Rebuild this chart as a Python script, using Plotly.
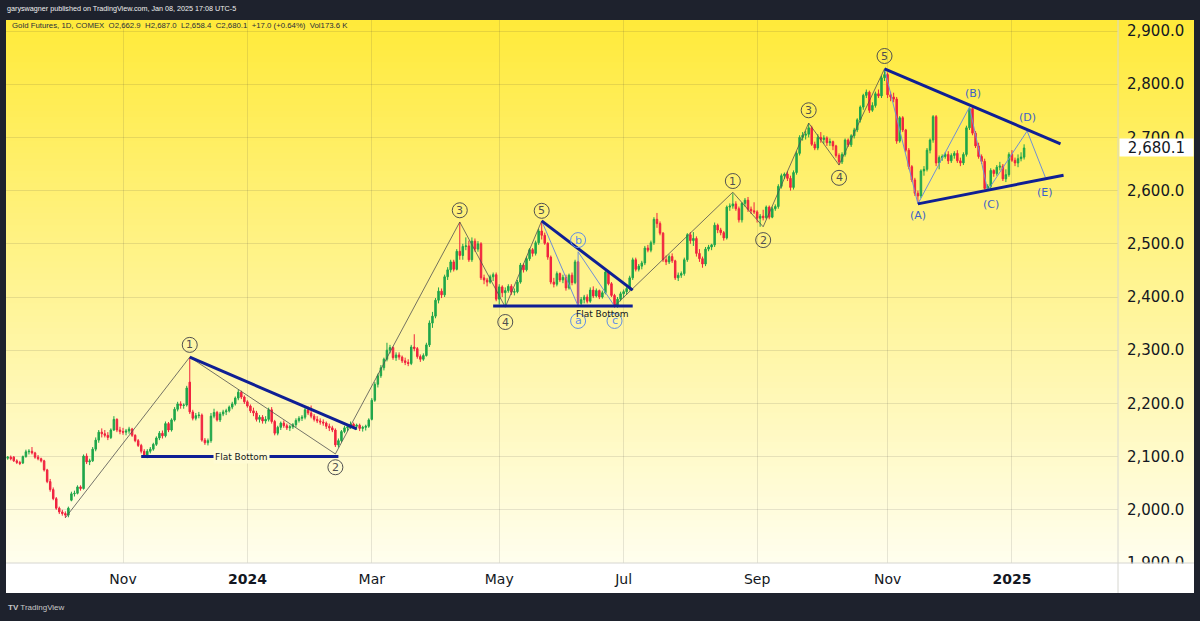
import plotly.graph_objects as go
import pandas as pd

# ---------------- data (Gold Futures, COMEX, daily) ----------------
opens = [
    # Sep 2023
    2103, 2098, 2096, 2097, 2099, 2099, 2092, 2089, 2088, 2100, 2109, 2110, 2107, 2099, 2096, 2092, 2075, 2053, 2038,
    # Oct 2023
    2021, 2003, 1996, 1993, 1990, 2018, 2030, 2031, 2043, 2040, 2101, 2090, 2092, 2114, 2131, 2146, 2143, 2140, 2136, 2150, 2170, 2150,
    # Nov 2023
    2147, 2146, 2148, 2152, 2140, 2130, 2121, 2110, 2100, 2110, 2114, 2123, 2135, 2144, 2139, 2162, 2150, 2169, 2189, 2199, 2196,
    # Dec 2023
    2197, 2240, 2184, 2172, 2177, 2178, 2131, 2126, 2130, 2176, 2183, 2169, 2180, 2184, 2186, 2193, 2199, 2210, 2221, 2212,
    # Jan 2024
    2203, 2195, 2186, 2182, 2170, 2174, 2167, 2170, 2188, 2166, 2144, 2155, 2163, 2158, 2154, 2156, 2160, 2168, 2172, 2174, 2188,
    # Feb 2024
    2182, 2176, 2170, 2167, 2165, 2163, 2157, 2154, 2150, 2122, 2130, 2147, 2154, 2156, 2161, 2157, 2159, 2153, 2155, 2157,
    # Mar 2024
    2170, 2206, 2236, 2252, 2267, 2283, 2300, 2305, 2286, 2291, 2287, 2280, 2277, 2275, 2306, 2303, 2288, 2283, 2290, 2310,
    # Apr 2024
    2351, 2364, 2394, 2411, 2404, 2438, 2451, 2466, 2452, 2486, 2478, 2495, 2496, 2470, 2505, 2490, 2500, 2436, 2432, 2428, 2438, 2442,
    # May 2024
    2396, 2419, 2408, 2412, 2420, 2409, 2410, 2428, 2460, 2451, 2472, 2489, 2482, 2502, 2524, 2516, 2501, 2475, 2428, 2424, 2444, 2432,
    # Jun 2024
    2437, 2417, 2441, 2427, 2466, 2388, 2395, 2400, 2392, 2413, 2402, 2412, 2400, 2408, 2447, 2425, 2403, 2384, 2396,
    # Jul 2024
    2406, 2410, 2416, 2436, 2470, 2452, 2458, 2464, 2492, 2488, 2502, 2546, 2538, 2520, 2470, 2466, 2476, 2468, 2436, 2441, 2444, 2470,
    # Aug 2024
    2517, 2506, 2510, 2482, 2472, 2462, 2490, 2494, 2498, 2535, 2526, 2521, 2511, 2569, 2571, 2575, 2566, 2545, 2576, 2582, 2565, 2562,
    # Sep 2024
    2560, 2548, 2552, 2549, 2569, 2550, 2566, 2570, 2608, 2628, 2631, 2623, 2606, 2634, 2670, 2700, 2704, 2706, 2718, 2687,
    # Oct 2024
    2680, 2700, 2696, 2699, 2690, 2692, 2684, 2666, 2654, 2668, 2695, 2686, 2703, 2714, 2733, 2757, 2779, 2785, 2751, 2760, 2782, 2778, 2812,
    # Nov 2024
    2818, 2780, 2776, 2772, 2693, 2737, 2714, 2676, 2645, 2620, 2595, 2590, 2637, 2640, 2676, 2695, 2739, 2652, 2662, 2664,
    # Dec 2024
    2668, 2656, 2666, 2670, 2656, 2652, 2668, 2718, 2754, 2708, 2684, 2664, 2655, 2604, 2608, 2638, 2632, 2644, 2646, 2622, 2630,
    # Jan 2025
    2668, 2657, 2652, 2660, 2662.9,
]
highs = [
    2106, 2101, 2100, 2101, 2102, 2101, 2095, 2092, 2102, 2113, 2114, 2118, 2109, 2103, 2098, 2094, 2077, 2058, 2042,
    2024, 2006, 2000, 1997, 2006, 2034, 2036, 2046, 2046, 2104, 2106, 2096, 2118, 2136, 2150, 2153, 2150, 2146, 2153, 2176, 2172, 2156,
    2154, 2152, 2156, 2154, 2142, 2133, 2124, 2114, 2114, 2118, 2126, 2138, 2148, 2149, 2166, 2165, 2172, 2193, 2203, 2204, 2200,
    2233, 2287, 2188, 2182, 2184, 2181, 2135, 2134, 2182, 2190, 2186, 2184, 2188, 2190, 2196, 2203, 2213, 2226, 2224, 2215,
    2206, 2198, 2192, 2186, 2178, 2178, 2176, 2192, 2193, 2169, 2158, 2166, 2168, 2162, 2160, 2163, 2172, 2176, 2178, 2192, 2194,
    2196, 2180, 2176, 2172, 2170, 2166, 2162, 2158, 2153, 2134, 2150, 2158, 2160, 2166, 2164, 2162, 2162, 2158, 2160, 2172,
    2210, 2240, 2256, 2272, 2286, 2314, 2310, 2307, 2296, 2296, 2290, 2286, 2283, 2310, 2330, 2306, 2292, 2294, 2314, 2356,
    2372, 2398, 2418, 2416, 2442, 2456, 2470, 2470, 2490, 2541, 2500, 2512, 2506, 2512, 2510, 2505, 2503, 2442, 2436, 2442, 2446, 2446,
    2424, 2422, 2418, 2424, 2424, 2416, 2432, 2464, 2463, 2476, 2492, 2492, 2506, 2528, 2543, 2521, 2503, 2478, 2436, 2448, 2446, 2442,
    2442, 2444, 2446, 2470, 2468, 2400, 2404, 2405, 2418, 2420, 2416, 2414, 2412, 2452, 2450, 2428, 2406, 2400, 2410,
    2414, 2420, 2440, 2474, 2474, 2462, 2468, 2496, 2498, 2506, 2550, 2558, 2542, 2522, 2478, 2480, 2482, 2470, 2446, 2448, 2474, 2520,
    2522, 2522, 2514, 2490, 2476, 2494, 2498, 2500, 2540, 2538, 2530, 2524, 2572, 2576, 2595, 2580, 2570, 2578, 2586, 2588, 2570, 2578,
    2563, 2556, 2564, 2572, 2572, 2570, 2574, 2612, 2632, 2634, 2636, 2628, 2638, 2674, 2704, 2710, 2712, 2727, 2722, 2692,
    2706, 2710, 2704, 2702, 2698, 2694, 2686, 2670, 2672, 2698, 2698, 2706, 2718, 2736, 2760, 2782, 2790, 2788, 2766, 2786, 2790, 2816, 2829,
    2822, 2786, 2784, 2776, 2740, 2740, 2716, 2680, 2648, 2624, 2600, 2640, 2646, 2680, 2698, 2742, 2742, 2666, 2668, 2672,
    2674, 2670, 2674, 2676, 2662, 2672, 2722, 2757, 2756, 2712, 2690, 2668, 2660, 2612, 2642, 2640, 2648, 2654, 2650, 2640, 2672,
    2676, 2662, 2668, 2672, 2687.0,
]
lows = [
    2095, 2093, 2092, 2094, 2093, 2090, 2086, 2084, 2086, 2098, 2104, 2104, 2096, 2093, 2089, 2072, 2050, 2034, 2018,
    2000, 1992, 1989, 1985, 1986, 2016, 2025, 2029, 2036, 2038, 2086, 2084, 2090, 2110, 2126, 2136, 2136, 2131, 2133, 2148, 2146, 2142,
    2141, 2140, 2143, 2137, 2127, 2118, 2106, 2099, 2097, 2106, 2111, 2120, 2131, 2134, 2136, 2146, 2147, 2166, 2185, 2190, 2190,
    2194, 2180, 2168, 2168, 2172, 2128, 2122, 2121, 2126, 2172, 2166, 2165, 2176, 2178, 2183, 2189, 2196, 2206, 2208, 2199,
    2192, 2182, 2176, 2166, 2164, 2162, 2162, 2166, 2162, 2140, 2140, 2150, 2154, 2150, 2148, 2152, 2155, 2164, 2167, 2170, 2178,
    2172, 2166, 2163, 2160, 2158, 2152, 2148, 2146, 2118, 2117, 2127, 2144, 2148, 2152, 2152, 2150, 2148, 2147, 2149, 2154,
    2168, 2203, 2230, 2248, 2262, 2279, 2294, 2282, 2280, 2282, 2276, 2272, 2270, 2272, 2298, 2284, 2278, 2280, 2288, 2306,
    2342, 2360, 2388, 2398, 2400, 2432, 2446, 2448, 2450, 2470, 2470, 2488, 2466, 2466, 2485, 2485, 2432, 2424, 2420, 2425, 2430, 2392,
    2386, 2400, 2381, 2408, 2404, 2403, 2407, 2425, 2446, 2448, 2468, 2476, 2478, 2498, 2508, 2498, 2470, 2424, 2418, 2420, 2428, 2426,
    2412, 2414, 2422, 2424, 2381, 2383, 2388, 2388, 2389, 2398, 2399, 2396, 2397, 2405, 2422, 2400, 2380, 2380, 2392,
    2398, 2404, 2412, 2432, 2448, 2448, 2452, 2460, 2484, 2484, 2498, 2530, 2516, 2466, 2460, 2462, 2464, 2432, 2430, 2436, 2440, 2466,
    2500, 2496, 2476, 2466, 2455, 2458, 2486, 2488, 2494, 2520, 2516, 2506, 2508, 2562, 2566, 2562, 2540, 2540, 2570, 2560, 2556, 2556,
    2540, 2532, 2544, 2546, 2546, 2548, 2562, 2566, 2604, 2622, 2618, 2600, 2602, 2630, 2666, 2694, 2696, 2700, 2684, 2676,
    2676, 2690, 2688, 2684, 2684, 2676, 2662, 2648, 2650, 2664, 2682, 2682, 2698, 2710, 2728, 2752, 2774, 2746, 2748, 2756, 2774, 2774, 2806,
    2774, 2768, 2766, 2688, 2690, 2710, 2672, 2640, 2616, 2590, 2575, 2586, 2628, 2636, 2670, 2690, 2646, 2640, 2656, 2660,
    2650, 2652, 2660, 2652, 2646, 2648, 2664, 2714, 2704, 2680, 2660, 2650, 2602, 2600, 2604, 2626, 2628, 2638, 2618, 2616, 2626,
    2654, 2646, 2644, 2655, 2658.4,
]
closes = [
    2098, 2096, 2098, 2099, 2096, 2092, 2089, 2087, 2100, 2109, 2110, 2107, 2099, 2096, 2092, 2075, 2053, 2038, 2021,
    2003, 1996, 1993, 1990, 2003, 2030, 2031, 2043, 2040, 2101, 2090, 2092, 2114, 2131, 2146, 2143, 2140, 2136, 2150, 2170, 2150, 2147,
    2146, 2148, 2152, 2140, 2130, 2121, 2110, 2100, 2110, 2114, 2123, 2135, 2144, 2139, 2162, 2150, 2169, 2189, 2199, 2196, 2197,
    2229, 2184, 2172, 2177, 2178, 2131, 2126, 2130, 2176, 2183, 2169, 2180, 2184, 2186, 2193, 2199, 2210, 2221, 2212, 2203,
    2195, 2186, 2182, 2170, 2174, 2167, 2170, 2188, 2166, 2144, 2155, 2163, 2158, 2154, 2156, 2160, 2168, 2172, 2174, 2188, 2182,
    2176, 2170, 2167, 2165, 2163, 2157, 2154, 2150, 2122, 2130, 2147, 2154, 2156, 2161, 2157, 2159, 2153, 2155, 2157, 2169,
    2206, 2236, 2252, 2267, 2283, 2300, 2305, 2286, 2291, 2287, 2280, 2277, 2275, 2306, 2303, 2288, 2283, 2290, 2310, 2351,
    2364, 2394, 2411, 2404, 2438, 2451, 2466, 2452, 2486, 2478, 2495, 2496, 2470, 2505, 2490, 2500, 2436, 2432, 2428, 2438, 2442, 2396,
    2419, 2408, 2412, 2420, 2409, 2410, 2428, 2460, 2451, 2472, 2489, 2482, 2502, 2524, 2516, 2501, 2475, 2428, 2424, 2444, 2432, 2437,
    2417, 2441, 2427, 2466, 2388, 2395, 2400, 2392, 2413, 2402, 2412, 2400, 2408, 2447, 2425, 2403, 2384, 2396, 2406,
    2410, 2416, 2436, 2470, 2452, 2458, 2464, 2492, 2488, 2502, 2546, 2538, 2520, 2470, 2466, 2476, 2468, 2436, 2441, 2444, 2470, 2517,
    2506, 2510, 2482, 2472, 2462, 2490, 2494, 2498, 2535, 2526, 2521, 2511, 2569, 2571, 2575, 2566, 2545, 2576, 2582, 2565, 2562, 2560,
    2548, 2552, 2549, 2569, 2550, 2566, 2570, 2608, 2628, 2631, 2623, 2606, 2634, 2670, 2700, 2704, 2706, 2718, 2687, 2680,
    2700, 2696, 2699, 2690, 2692, 2684, 2666, 2654, 2668, 2695, 2686, 2703, 2714, 2733, 2757, 2779, 2785, 2751, 2760, 2782, 2778, 2812, 2818,
    2780, 2776, 2772, 2693, 2737, 2714, 2676, 2645, 2620, 2595, 2590, 2637, 2640, 2676, 2695, 2739, 2652, 2662, 2664, 2668,
    2656, 2666, 2670, 2656, 2652, 2668, 2718, 2754, 2708, 2684, 2664, 2655, 2604, 2608, 2638, 2632, 2644, 2646, 2622, 2630, 2668,
    2657, 2652, 2660, 2663.1, 2680.1,
]

first_date = "2023-09-05"
holidays = ["2023-11-23", "2023-12-25", "2024-01-01", "2024-01-15", "2024-02-19", "2024-03-29",
            "2024-05-27", "2024-06-19", "2024-07-04", "2024-09-02", "2024-11-28", "2024-12-25",
            "2025-01-01", "2025-01-20", "2025-02-17"]

# x-axis month labels
tick_months = ["2023-11", "2024-01", "2024-03", "2024-05", "2024-07", "2024-09", "2024-11", "2025-01"]
tick_names = ["Nov", "<b>2024</b>", "Mar", "May", "Jul", "Sep", "Nov", "<b>2025</b>"]
price_ticks = [1900, 2000, 2100, 2200, 2300, 2400, 2500, 2600, 2700, 2800, 2900]

# Elliott-wave drawings (date, price)
wave1_dates = ["2023-10-05", "2023-12-04", "2024-02-13", "2024-04-12", "2024-05-03", "2024-05-21"]
wave1_prices = [1985, 2287, 2105, 2541, 2381, 2543]
abc_dates = ["2024-05-21", "2024-06-07", "2024-06-07", "2024-06-26"]
abc_prices = [2543, 2383, 2485, 2383]
wave2_dates = ["2024-06-26", "2024-08-21", "2024-09-05", "2024-09-26", "2024-10-10", "2024-10-31"]
wave2_prices = [2383, 2597, 2532, 2727, 2648, 2829]
tri_dates = ["2024-10-31", "2024-11-15", "2024-12-11", "2024-12-19", "2025-01-09", "2025-01-17"]
tri_prices = [2829, 2575, 2757, 2600, 2712, 2625]

trend_lines = [
    (["2023-12-04", "2024-02-23"], [2287, 2152]),
    (["2023-11-09", "2024-02-14"], [2100, 2100]),
    (["2024-05-21", "2024-07-05"], [2543, 2413]),
    (["2024-04-29", "2024-07-05"], [2383, 2383]),
    (["2024-10-31", "2025-01-27"], [2829, 2688]),
    (["2024-11-15", "2025-01-28"], [2575, 2629]),
]

circled_main = [("2023-12-04", 2310, "1"), ("2024-02-13", 2080, "2"), ("2024-04-12", 2563, "3"),
                ("2024-05-03", 2353, "4"), ("2024-05-21", 2562, "5"),
                ("2024-08-21", 2618, "1"), ("2024-09-05", 2507, "2"), ("2024-09-26", 2751, "3"),
                ("2024-10-10", 2624, "4"), ("2024-10-31", 2853, "5")]
circled_abc = [("2024-06-07", 2355, "a"), ("2024-06-07", 2507, "b"), ("2024-06-26", 2355, "c")]
tri_labels = [("2024-11-15", 2554, "(A)"), ("2024-12-12", 2782, "(B)"), ("2024-12-20", 2573, "(C)"),
              ("2025-01-09", 2738, "(D)"), ("2025-01-17", 2597, "(E)")]
flat_labels = [("2023-12-28", 2100), ("2024-06-20", 2368)]

# ---------------- build ----------------
days = [d.strftime("%Y-%m-%d") for d in pd.bdate_range(first_date, "2025-03-31")]
days = [d for d in days if d not in holidays]
pos = {d: i for i, d in enumerate(days)}
n = len(closes)
xs = list(range(n))

tickvals = [next(i for i, d in enumerate(days) if d.startswith(m)) for m in tick_months]

GREEN = "#1fa64a"
RED = "#f0233f"
NAVY = "#0f1f94"
THIN = "#505050"
LBLUE = "#6f8fd6"
TXTBLUE = "#3d62c8"

fig = go.Figure()
fig.add_trace(go.Candlestick(
    x=xs, open=opens, high=highs, low=lows, close=closes,
    increasing=dict(line=dict(color=GREEN, width=1), fillcolor=GREEN),
    decreasing=dict(line=dict(color=RED, width=1), fillcolor=RED),
    whiskerwidth=0, showlegend=False, hoverinfo="skip"))

def add_path(dates, prices, color, width):
    fig.add_trace(go.Scatter(x=[pos[d] for d in dates], y=prices, mode="lines",
                             line=dict(color=color, width=width), showlegend=False, hoverinfo="skip"))

add_path(wave1_dates, wave1_prices, THIN, 0.8)
add_path(abc_dates, abc_prices, LBLUE, 1)
add_path(wave2_dates, wave2_prices, THIN, 0.8)
add_path(tri_dates, tri_prices, LBLUE, 1)
for ds, ps in trend_lines:
    add_path(ds, ps, NAVY, 3)

# geometry of the frame (pixels)
W, H = 1200, 621
L, R, T, B = 6, 82, 20, 58
pw, ph = W - L - R, H - T - B
xr_right = (1194 - L) / pw
y_strip = -(593 - (H - B)) / ph

shapes = []
top_c = (255, 234, 58)
bot_c = (255, 254, 238)
nb = 90
for k in range(nb):
    t = (k + 0.5) / nb
    c = tuple(round(top_c[j] + (bot_c[j] - top_c[j]) * t) for j in range(3))
    shapes.append(dict(type="rect", xref="paper", yref="paper", x0=0, x1=xr_right,
                       y0=1 - (k + 1) / nb - 0.002, y1=1 - k / nb,
                       fillcolor="rgb(%d,%d,%d)" % c, line=dict(width=0), layer="below"))
shapes.append(dict(type="rect", xref="paper", yref="paper", x0=0, x1=xr_right, y0=y_strip, y1=0,
                   fillcolor="white", line=dict(width=0), layer="below"))
shapes.append(dict(type="rect", xref="paper", yref="paper", x0=1.0005, x1=xr_right, y0=y_strip, y1=-0.001,
                   fillcolor="white", line=dict(width=0), layer="above"))
shapes.append(dict(type="line", xref="paper", yref="paper", x0=1, x1=1, y0=y_strip, y1=1,
                   line=dict(color="#d6d6d0", width=1), layer="above"))
shapes.append(dict(type="line", xref="paper", yref="paper", x0=0, x1=xr_right, y0=0, y1=0,
                   line=dict(color="#d6d6d0", width=1), layer="above"))

annotations = []
for d, p, t in circled_main + circled_abc:
    col = THIN if t.isdigit() else "#5f8ee8"
    shapes.append(dict(type="circle", xref="x", yref="y", xsizemode="pixel", ysizemode="pixel",
                       xanchor=pos[d], yanchor=p, x0=-7.5, x1=7.5, y0=-7.5, y1=7.5,
                       line=dict(color=col, width=1), fillcolor="rgba(0,0,0,0)", layer="above"))
    annotations.append(dict(x=pos[d], y=p, xref="x", yref="y", text=t, showarrow=False,
                            font=dict(family="DejaVu Sans", size=11, color=col)))
for d, p, t in tri_labels:
    annotations.append(dict(x=pos[d], y=p, xref="x", yref="y", text=t, showarrow=False,
                            font=dict(family="DejaVu Sans", size=11, color=TXTBLUE)))
annotations.append(dict(x=pos[flat_labels[0][0]], y=flat_labels[0][1], xref="x", yref="y",
                        text="Flat Bottom", showarrow=False, bgcolor="rgb(255,251,212)", borderpad=1,
                        font=dict(family="DejaVu Sans", size=9, color="#131722")))
annotations.append(dict(x=pos[flat_labels[1][0]], y=flat_labels[1][1], xref="x", yref="y",
                        text="Flat Bottom", showarrow=False,
                        font=dict(family="DejaVu Sans", size=9, color="#131722")))

# header texts
annotations.append(dict(xref="paper", yref="paper", x=-1 / pw, y=1 + 11 / ph, xanchor="left", yanchor="middle",
                        text="garyswagner published on TradingView.com, Jan 08, 2025 17:08 UTC-5",
                        showarrow=False, font=dict(family="Liberation Sans", size=7.2, color="#f0f0f0")))
annotations.append(dict(xref="paper", yref="paper", x=4 / pw, y=1 - 6 / ph, xanchor="left", yanchor="middle",
                        text="Gold Futures, 1D, COMEX  O2,662.9  H2,687.0  L2,658.4  C2,680.1  +17.0 (+0.64%)  Vol173.6 K",
                        showarrow=False, font=dict(family="Liberation Sans", size=7.8, color="#2a2e39")))
annotations.append(dict(xref="paper", yref="paper", x=0, y=-(607 - (H - B)) / ph, xanchor="left", yanchor="middle",
                        text="<b>TV</b> TradingView", showarrow=False,
                        font=dict(family="Liberation Sans", size=8, color="#c8c8c8")))
# last price label
annotations.append(dict(xref="paper", yref="y", x=1 + 1 / pw, y=closes[-1], xanchor="left", yanchor="middle",
                        text="{:,.1f}".format(closes[-1]), showarrow=False, bgcolor="white", width=73, height=17,
                        borderpad=0, align="center",
                        font=dict(family="DejaVu Sans", size=15, color="#131722")))

fig.update_layout(
    width=W, height=H, margin=dict(l=L, r=R, t=T, b=B),
    paper_bgcolor="#1e222d", plot_bgcolor="rgba(0,0,0,0)",
    font=dict(family="DejaVu Sans", color="#131722"),
    showlegend=False, hovermode=False,
    shapes=shapes, annotations=annotations,
    xaxis=dict(range=[41 - (123 - L) / 3.034, 41 + (1118 - 123) / 3.034], rangeslider=dict(visible=False),
               tickvals=tickvals, ticktext=tick_names, showgrid=True, gridcolor="rgba(60,60,60,0.13)",
               gridwidth=1, zeroline=False, showline=False, ticks="", ticklabelstandoff=6,
               tickfont=dict(family="DejaVu Sans", size=14, color="#131722")),
    yaxis=dict(side="right", range=[1900, 1900 + ph / 0.532], tickvals=price_ticks,
               ticktext=["{:,.1f}".format(v) for v in price_ticks], showgrid=True,
               gridcolor="rgba(60,60,60,0.13)", zeroline=False, showline=False, ticks="",
               ticklabelstandoff=8,
               tickfont=dict(family="DejaVu Sans", size=15, color="#131722")),
)

fig.write_html("out.html")
